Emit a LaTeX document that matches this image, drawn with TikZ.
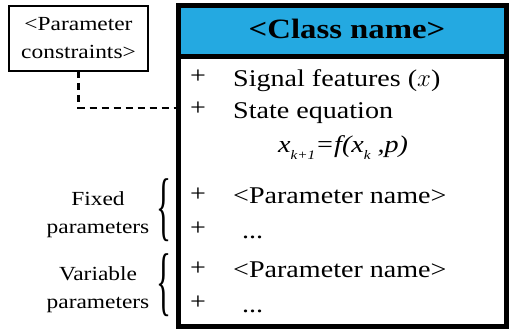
\documentclass[tikz,border=0pt]{standalone}
\usepackage{fontspec}
\setmainfont{Liberation Serif}[FakeStretch=1.17]
\usetikzlibrary{decorations.pathreplacing}
\definecolor{hdr}{RGB}{36,169,225}
\begin{document}
\begin{tikzpicture}[x=1pt,y=-1pt,
  body/.style={font=\fontsize{24}{28}\selectfont, inner sep=0, anchor=base west},
  plus/.style={font=\fontsize{24}{28}\selectfont, inner sep=0},
  lbl/.style={font=\fontsize{20}{28}\selectfont, align=center, inner sep=0},
  bracenode/.style={inner sep=0, outer sep=0}]
\useasboundingbox (0,0) rectangle (509,329);
\fill[hdr] (178.5,5.5) rectangle (506.5,56.5);
\node[draw, line width=5pt, inner sep=0, outer sep=0, minimum width=328pt, minimum height=321pt, anchor=north west] (cls) at (178.5,5.5) {};
\draw[line width=5pt] (cls.west |- {(0,56.5)}) -- (cls.east |- {(0,56.5)});
\node[font=\fontsize{28}{32}\selectfont\bfseries, inner sep=0, anchor=base] (title) at (347,39) {<Class name>};
\node[plus] (p1) at (198,77) {+};
\node[body] (t1) at (233,86) {Signal features ($x$)};
\node[plus] (p2) at (198,109) {+};
\node[body] (t2) at (233,118) {State equation};
\node[body] (eq) at (278,152) {\itshape x\raisebox{-7pt}{\fontsize{13}{13}\selectfont k+1}=f(x\raisebox{-7pt}{\fontsize{13}{13}\selectfont k} ,p)};
\node[plus] (p3) at (198,195) {+};
\node[body] (t3) at (233,203) {<Parameter name>};
\node[plus] (p4) at (198,229) {+};
\node[body] (t4) at (242,238) {...};
\node[plus] (p5) at (198,269) {+};
\node[body] (t5) at (233,277) {<Parameter name>};
\node[plus] (p6) at (198,303) {+};
\node[body] (t6) at (242,312) {...};
\node[draw, line width=2.5pt, minimum width=139pt, minimum height=65pt, lbl, outer sep=0] (pc) at (78.5,38.5) {<Parameter\\constraints>};
\draw[line width=2.5pt, dash pattern=on 7pt off 5pt] (pc.south) |- (cls.west |- {(0,108)});
\node[lbl, anchor=base] (fixed) at (98,233) {Fixed\\parameters};
\node[lbl, anchor=base] (var) at (98,308) {Variable\\parameters};
\node[bracenode] (b1) at (164,210) {\resizebox*{15pt}{63pt}{\{}};
\node[bracenode] (b2) at (164,285) {\resizebox*{15pt}{63pt}{\{}};
\end{tikzpicture}
\end{document}
